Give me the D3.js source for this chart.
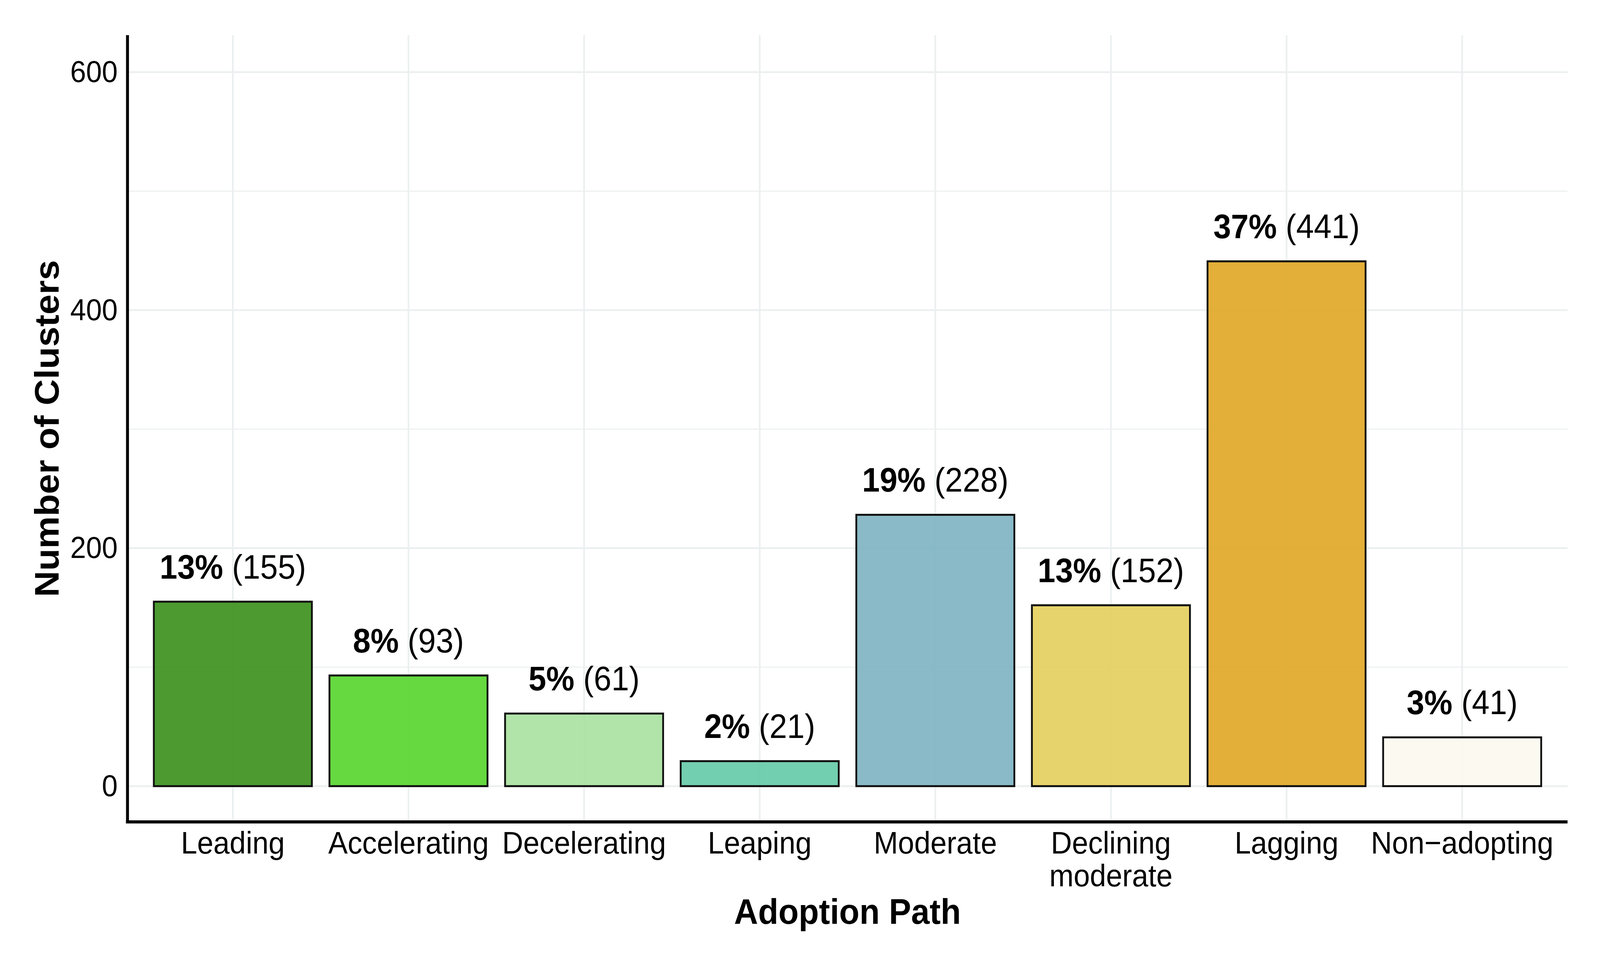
<!DOCTYPE html>
<html>
<head>
<meta charset="utf-8">
<script src="https://cdn.jsdelivr.net/npm/d3@7"></script>
<style>
  html, body { margin: 0; padding: 0; background: #fff; overflow: hidden; }
  #chart { width: 100vw; height: 100vh; }
  svg { display: block; font-family: "Liberation Sans", Arial, Helvetica, sans-serif; }
</style>
</head>
<body>
<div id="chart"></div>
<script>
// Bar chart: number of clusters per adoption path

// data
const categories = ["Leading", "Accelerating", "Decelerating", "Leaping", "Moderate", "Declining moderate", "Lagging", "Non-adopting"];
const tickLabels = [["Leading"], ["Accelerating"], ["Decelerating"], ["Leaping"], ["Moderate"], ["Declining", "moderate"], ["Lagging"], ["Non\u2212adopting"]];
const counts = [155, 93, 61, 21, 228, 152, 441, 41];
const percents = ["13%", "8%", "5%", "2%", "19%", "13%", "37%", "3%"];
const colors = ["#388f1a", "#55d52b", "#a7e19e", "#63caa6", "#7db3c1", "#e4ce5b", "#e0a623", "#fcf8f0"];
const yTicks = [0, 200, 400, 600];
const yMinor = [100, 300, 500];

const WIDTH = 4386, HEIGHT = 2451;
const panel = {left: 349.5, right: 4297, top: 90, bottom: 2105};
const gridColor = "#ebefef";

// fixed viewBox so the drawing fills whatever viewport the page gets
const svg = d3.select("#chart").append("svg")
  .attr("viewBox", `0 0 ${WIDTH} ${HEIGHT}`)
  .attr("preserveAspectRatio", "none")
  .attr("width", "100%")
  .attr("height", "100%");

svg.append("rect").attr("width", WIDTH).attr("height", HEIGHT).attr("fill", "#fff");

// scales (ggplot-like expansion: 0.6 band on x, 5% on y)
const x = d3.scaleBand()
  .domain(categories)
  .range([panel.left, panel.right])
  .paddingInner(0.1)
  .paddingOuter(0.15);

const y = d3.scaleLinear()
  .domain([-30.05, 631.05])
  .range([panel.bottom, panel.top]);

// grid
const grid = svg.append("g");
grid.selectAll(".minor").data(yMinor).enter().append("line")
  .attr("x1", panel.left).attr("x2", panel.right)
  .attr("y1", d => y(d)).attr("y2", d => y(d))
  .attr("stroke", gridColor).attr("stroke-width", 2.5);
grid.selectAll(".major").data(yTicks).enter().append("line")
  .attr("x1", panel.left).attr("x2", panel.right)
  .attr("y1", d => y(d)).attr("y2", d => y(d))
  .attr("stroke", gridColor).attr("stroke-width", 4.5);
grid.selectAll(".vert").data(categories).enter().append("line")
  .attr("x1", d => x(d) + x.bandwidth() / 2).attr("x2", d => x(d) + x.bandwidth() / 2)
  .attr("y1", panel.top).attr("y2", panel.bottom)
  .attr("stroke", gridColor).attr("stroke-width", 4.5);

// bars
const data = categories.map((c, i) => ({cat: c, n: counts[i], pct: percents[i], col: colors[i]}));

svg.append("g").selectAll("rect").data(data).enter().append("rect")
  .attr("x", d => x(d.cat))
  .attr("width", x.bandwidth())
  .attr("y", d => y(d.n))
  .attr("height", d => y(0) - y(d.n))
  .attr("fill", d => d.col)
  .attr("fill-opacity", 0.9)
  .attr("stroke", "#111")
  .attr("stroke-width", 5);

// bar labels: bold percent + count
const lbl = svg.append("g").selectAll("text").data(data).enter().append("text")
  .attr("x", d => x(d.cat) + x.bandwidth() / 2)
  .attr("y", d => y(d.n) - 59)
  .attr("text-anchor", "middle")
  .attr("font-size", 87)
  .attr("fill", "#000");
lbl.append("tspan").attr("font-weight", "bold").text(d => d.pct);
lbl.append("tspan").text(d => " (" + d.n + ")");

// y axis tick labels
const yAxis = d3.axisLeft(y).tickValues(yTicks).tickSize(0).tickPadding(27);
const gy = svg.append("g").attr("transform", `translate(${panel.left},0)`).call(yAxis);
gy.select(".domain").remove();
gy.selectAll("text").attr("font-size", 78).attr("fill", "#000")
  .style("font-family", "'Liberation Sans', Arial, sans-serif");

// x axis tick labels (multi-line)
const xAxis = d3.axisBottom(x).tickSize(0).tickFormat("");
const gx = svg.append("g").attr("transform", `translate(0,${panel.bottom})`).call(xAxis);
gx.select(".domain").remove();
gx.selectAll(".tick").each(function(d, i) {
  const t = d3.select(this).append("text")
    .attr("text-anchor", "middle")
    .attr("font-size", 80)
    .attr("fill", "#000")
    .style("font-family", "'Liberation Sans', Arial, sans-serif");
  tickLabels[i].forEach((line, j) => {
    t.append("tspan").attr("x", 0).attr("y", 81 + j * 84).text(line);
  });
});

// axis lines
svg.append("line")
  .attr("x1", panel.left).attr("x2", panel.left)
  .attr("y1", panel.top).attr("y2", panel.bottom + 4)
  .attr("stroke", "#000").attr("stroke-width", 8);
svg.append("line")
  .attr("x1", panel.left - 4).attr("x2", panel.right)
  .attr("y1", panel.bottom).attr("y2", panel.bottom)
  .attr("stroke", "#000").attr("stroke-width", 8);

// axis titles
svg.append("text")
  .attr("x", (panel.left + panel.right) / 2)
  .attr("y", 2366)
  .attr("text-anchor", "middle")
  .attr("font-size", 91)
  .attr("font-weight", "bold")
  .text("Adoption Path");

svg.append("text")
  .attr("transform", `translate(161,${(panel.top + panel.bottom) / 2}) rotate(-90)`)
  .attr("text-anchor", "middle")
  .attr("font-size", 93)
  .attr("font-weight", "bold")
  .text("Number of Clusters");
</script>
</body>
</html>
